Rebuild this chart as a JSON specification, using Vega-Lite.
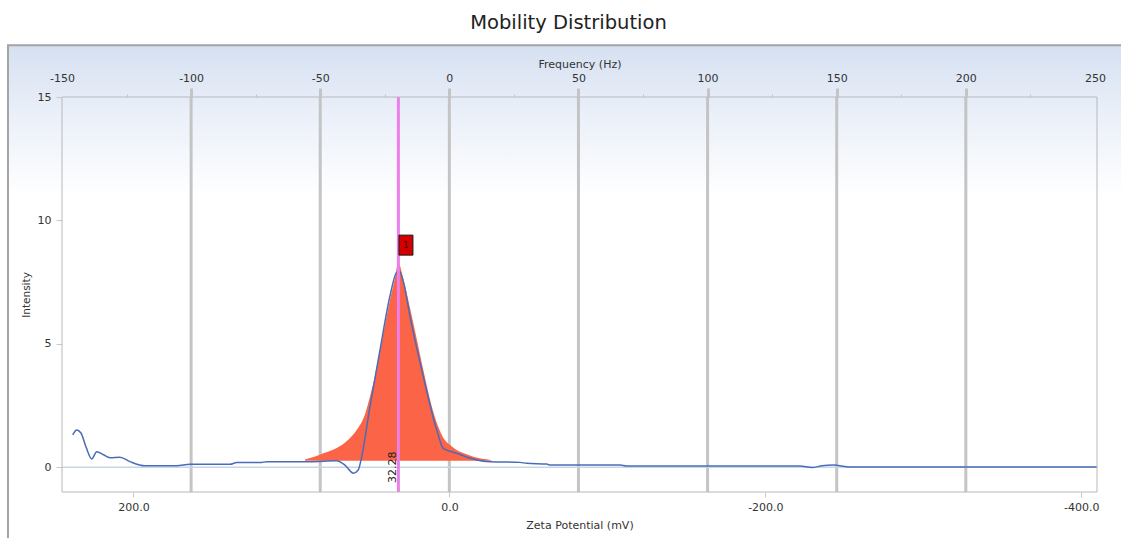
{
  "$schema": "https://vega.github.io/schema/vega-lite/v6.json",
  "width": 1035,
  "height": 395,
  "autosize": {"type": "none"},
  "padding": {"left": 62, "top": 97, "right": 24, "bottom": 46},
  "background": "white",
  "title": {
    "text": "Mobility Distribution",
    "font": "DejaVu Sans",
    "fontSize": 19.5,
    "fontWeight": "normal",
    "color": "#222222",
    "anchor": "middle",
    "offset": 11,
    "dx": -11
  },
  "config": {
    "view": {"stroke": null},
    "axis": {
      "labelFont": "DejaVu Sans",
      "titleFont": "DejaVu Sans",
      "labelFontSize": 11,
      "titleFontSize": 11,
      "labelColor": "#333333",
      "titleColor": "#333333",
      "titleFontWeight": "normal",
      "domain": false,
      "grid": false,
      "labelFlush": false,
      "labelOverlap": false
    }
  },
  "datasets": {
    "fit": [
      {"zeta": 91.4, "I": 0.32},
      {"zeta": 85.0, "I": 0.44},
      {"zeta": 79.8, "I": 0.57},
      {"zeta": 74.0, "I": 0.70},
      {"zeta": 69.2, "I": 0.86},
      {"zeta": 63.5, "I": 1.15},
      {"zeta": 58.7, "I": 1.51},
      {"zeta": 53.4, "I": 2.15},
      {"zeta": 50.3, "I": 2.86},
      {"zeta": 46.8, "I": 3.8},
      {"zeta": 43.9, "I": 4.76},
      {"zeta": 40.5, "I": 5.85},
      {"zeta": 37.6, "I": 6.78},
      {"zeta": 34.4, "I": 7.67},
      {"zeta": 32.3, "I": 8.32},
      {"zeta": 30.0, "I": 7.85},
      {"zeta": 27.5, "I": 7.2},
      {"zeta": 25.1, "I": 6.5},
      {"zeta": 21.0, "I": 5.3},
      {"zeta": 16.7, "I": 4.0},
      {"zeta": 13.2, "I": 3.0},
      {"zeta": 10.2, "I": 2.25},
      {"zeta": 6.8, "I": 1.6},
      {"zeta": 3.9, "I": 1.2},
      {"zeta": -0.5, "I": 0.9},
      {"zeta": -4.6, "I": 0.70},
      {"zeta": -10.0, "I": 0.55},
      {"zeta": -15.1, "I": 0.43},
      {"zeta": -20.5, "I": 0.35},
      {"zeta": -25.7, "I": 0.30},
      {"zeta": -27.0, "I": 0.27}
    ],
    "blue": [
      {"zeta": 238.4, "I": 1.31},
      {"zeta": 235.9, "I": 1.51},
      {"zeta": 233.2, "I": 1.39},
      {"zeta": 230.0, "I": 0.82},
      {"zeta": 226.4, "I": 0.34},
      {"zeta": 223.2, "I": 0.63},
      {"zeta": 219.2, "I": 0.52},
      {"zeta": 214.8, "I": 0.39},
      {"zeta": 208.5, "I": 0.41},
      {"zeta": 202.2, "I": 0.23},
      {"zeta": 192.7, "I": 0.06},
      {"zeta": 172.6, "I": 0.06},
      {"zeta": 164.2, "I": 0.12},
      {"zeta": 138.9, "I": 0.12},
      {"zeta": 134.6, "I": 0.19},
      {"zeta": 119.9, "I": 0.19},
      {"zeta": 115.6, "I": 0.23},
      {"zeta": 88.2, "I": 0.23},
      {"zeta": 71.3, "I": 0.27},
      {"zeta": 66.1, "I": 0.09},
      {"zeta": 60.8, "I": -0.24},
      {"zeta": 57.7, "I": -0.11},
      {"zeta": 55.5, "I": 0.43},
      {"zeta": 50.3, "I": 2.45},
      {"zeta": 43.9, "I": 4.76},
      {"zeta": 37.6, "I": 6.94},
      {"zeta": 33.4, "I": 7.9},
      {"zeta": 31.7, "I": 7.95},
      {"zeta": 28.7, "I": 7.4},
      {"zeta": 24.9, "I": 6.10},
      {"zeta": 16.5, "I": 3.67},
      {"zeta": 8.0, "I": 1.51},
      {"zeta": 3.9, "I": 0.77},
      {"zeta": -4.6, "I": 0.57},
      {"zeta": -17.3, "I": 0.30},
      {"zeta": -25.7, "I": 0.23},
      {"zeta": -44.7, "I": 0.20},
      {"zeta": -48.9, "I": 0.16},
      {"zeta": -61.6, "I": 0.13},
      {"zeta": -63.7, "I": 0.09},
      {"zeta": -108.0, "I": 0.09},
      {"zeta": -112.2, "I": 0.05},
      {"zeta": -221.9, "I": 0.05},
      {"zeta": -229.5, "I": -0.01},
      {"zeta": -235.8, "I": 0.06},
      {"zeta": -242.8, "I": 0.09},
      {"zeta": -253.5, "I": 0.01},
      {"zeta": -409.9, "I": 0.01}
    ],
    "freqgrid": [
      {"f": -100}, {"f": -50}, {"f": 0}, {"f": 50}, {"f": 100}, {"f": 150}, {"f": 200}
    ],
    "peak": [
      {"zeta": 32.28, "label": "32.28", "markerZeta": 27.5, "markerI": 9.0, "id": "1"}
    ]
  },
  "layer": [
    {
      "data": {"values": [{}]},
      "mark": {
        "type": "rect",
        "clip": false,
        "stroke": "#a3a3a3",
        "strokeWidth": 2,
        "fill": {
          "gradient": "linear",
          "x1": 0, "y1": 0, "x2": 0, "y2": 1,
          "stops": [
            {"offset": 0, "color": "#d6e0f1"},
            {"offset": 0.12, "color": "#e8eef8"},
            {"offset": 0.3, "color": "#ffffff"},
            {"offset": 1, "color": "#ffffff"}
          ]
        }
      },
      "encoding": {
        "x": {"datum": 279.4, "type": "quantitative", "scale": {"domain": [-409.9, 245.2], "reverse": true, "nice": false, "zero": false}, "axis": null},
        "x2": {"datum": -430},
        "y": {"datum": 17.1, "type": "quantitative", "scale": {"domain": [-1, 15], "nice": false, "zero": false}},
        "y2": {"datum": -3.3}
      }
    },
    {
      "data": {"name": "freqgrid"},
      "mark": {"type": "rule", "color": "#c4c4c4", "strokeWidth": 3},
      "encoding": {
        "x": {
          "field": "f",
          "type": "quantitative",
          "scale": {"domain": [-150, 250.8], "nice": false, "zero": false},
          "axis": {
            "orient": "top",
            "zindex": 1,
            "title": "Frequency (Hz)",
            "values": [-150, -125, -100, -75, -50, -25, 0, 25, 50, 75, 100, 125, 150, 175, 200, 225, 250],
            "labelExpr": "datum.value % 50 === 0 ? '' + datum.value : ''",
            "tickColor": "#c4c4c4",
            "tickSize": {"condition": {"test": "datum.value % 50 === 0", "value": 9}, "value": 3},
            "tickWidth": {"condition": {"test": "datum.value % 50 === 0", "value": 3}, "value": 1},
            "tickOpacity": {"condition": {"test": "datum.value === -150 || datum.value === 250", "value": 0}, "value": 1},
            "labelPadding": 5,
            "titlePadding": 3
          }
        }
      }
    },
    {
      "layer": [
        {
          "data": {"values": [{}]},
          "mark": {"type": "rule", "color": "#c6d5ea", "strokeWidth": 1.5},
          "encoding": {
            "y": {"datum": 0, "type": "quantitative", "scale": {"domain": [-1, 15], "nice": false, "zero": false}}
          }
        },
        {
          "data": {"name": "fit"},
          "mark": {"type": "area", "color": "#fb6446", "opacity": 1, "interpolate": "monotone"},
          "encoding": {
            "x": {
              "field": "zeta",
              "type": "quantitative",
              "scale": {"domain": [-409.9, 245.2], "reverse": true, "nice": false, "zero": false},
              "axis": {
                "orient": "bottom",
                "zindex": 1,
                "title": "Zeta Potential (mV)",
                "values": [200, 0, -200, -400],
                "labelExpr": "replace(format(datum.value, '.1f'), '\u2212', '-')",
                "tickColor": "#c8c8c8",
                "tickSize": 5,
                "labelPadding": 4,
                "titlePadding": 7
              }
            },
            "y": {
              "field": "I",
              "type": "quantitative",
              "scale": {"domain": [-1, 15], "nice": false, "zero": false},
              "axis": {
                "zindex": 1,
                "title": "Intensity",
                "titleFontSize": 10.5,
                "values": [0, 5, 10, 15],
                "format": "d",
                "tickColor": "#c8c8c8",
                "tickSize": 6,
                "labelPadding": 5,
                "titlePadding": 6
              }
            },
            "y2": {"datum": 0.27}
          }
        },
        {
          "data": {"name": "blue"},
          "mark": {"type": "line", "color": "#4a6cb8", "strokeWidth": 1.5, "interpolate": "monotone"},
          "encoding": {
            "x": {"field": "zeta", "type": "quantitative", "scale": {"domain": [-409.9, 245.2], "reverse": true, "nice": false, "zero": false}},
            "y": {"field": "I", "type": "quantitative", "scale": {"domain": [-1, 15], "nice": false, "zero": false}}
          }
        },
        {
          "data": {"name": "peak"},
          "mark": {"type": "rule", "color": "#ec7fea", "strokeWidth": 3},
          "encoding": {
            "x": {"field": "zeta", "type": "quantitative", "scale": {"domain": [-409.9, 245.2], "reverse": true, "nice": false, "zero": false}}
          }
        },
        {
          "data": {"name": "peak"},
          "mark": {"type": "text", "angle": 270, "align": "center", "baseline": "bottom", "font": "DejaVu Sans", "fontSize": 11, "color": "#222222"},
          "encoding": {
            "x": {"field": "zeta", "type": "quantitative", "scale": {"domain": [-409.9, 245.2], "reverse": true, "nice": false, "zero": false}},
            "y": {"datum": 0, "type": "quantitative", "scale": {"domain": [-1, 15], "nice": false, "zero": false}},
            "text": {"field": "label"}
          }
        },
        {
          "data": {"name": "peak"},
          "mark": {"type": "point", "shape": "M-0.7,-1L0.7,-1L0.7,1L-0.7,1Z", "size": 400, "filled": true, "fill": "#d40000", "stroke": "#1a1a1a", "strokeWidth": 1, "opacity": 1},
          "encoding": {
            "x": {"field": "markerZeta", "type": "quantitative", "scale": {"domain": [-409.9, 245.2], "reverse": true, "nice": false, "zero": false}},
            "y": {"field": "markerI", "type": "quantitative", "scale": {"domain": [-1, 15], "nice": false, "zero": false}}
          }
        },
        {
          "data": {"name": "peak"},
          "mark": {"type": "text", "font": "DejaVu Sans", "fontSize": 9, "color": "#3a0000", "align": "center", "baseline": "middle"},
          "encoding": {
            "x": {"field": "markerZeta", "type": "quantitative", "scale": {"domain": [-409.9, 245.2], "reverse": true, "nice": false, "zero": false}},
            "y": {"field": "markerI", "type": "quantitative", "scale": {"domain": [-1, 15], "nice": false, "zero": false}},
            "text": {"field": "id"}
          }
        },
        {
          "data": {"values": [{}]},
          "mark": {"type": "rect", "fill": null, "filled": false, "stroke": "#b8b8b8", "strokeWidth": 1},
          "encoding": {
            "x": {"datum": 245.2, "type": "quantitative", "scale": {"domain": [-409.9, 245.2], "reverse": true, "nice": false, "zero": false}},
            "x2": {"datum": -409.9},
            "y": {"datum": 15, "type": "quantitative", "scale": {"domain": [-1, 15], "nice": false, "zero": false}},
            "y2": {"datum": -1}
          }
        }
      ]
    }
  ],
  "resolve": {"scale": {"x": "independent"}, "axis": {"x": "independent"}}
}
